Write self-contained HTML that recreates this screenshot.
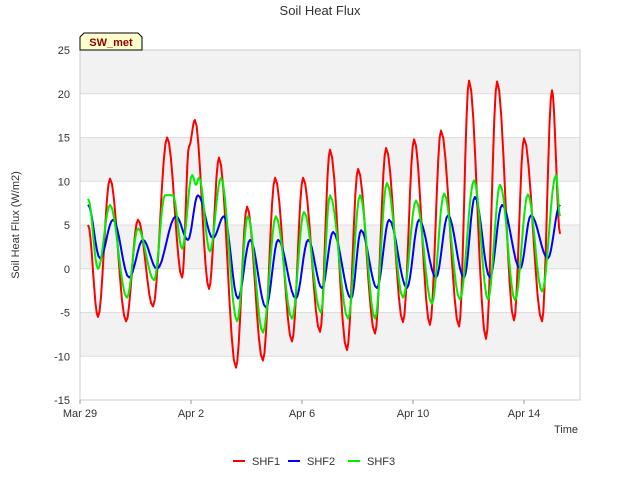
<!DOCTYPE html>
<html><head><meta charset="utf-8"><style>
body{margin:0;background:#fff;font-family:"Liberation Sans",sans-serif;}
svg text{font-family:"Liberation Sans",sans-serif;}
</style></head><body>
<svg id="chart" width="640" height="480" viewBox="0 0 640 480">
<rect width="640" height="480" fill="#fff"/>
<text x="320" y="15" text-anchor="middle" font-size="13" fill="#333">Soil Heat Flux</text>
<g id="plot"></g>
<text x="19" y="225" transform="rotate(-90 19 225)" text-anchor="middle" font-size="11" fill="#333">Soil Heat Flux (W/m2)</text>
<text x="578" y="433" text-anchor="end" font-size="11" fill="#333">Time</text>
<g>
<path d="M80,50 L80,37 L84,33 L138,33 L142,37 L142,50 Z" fill="#ffffcc" stroke="#000" stroke-width="1"/>
<text x="111" y="46" text-anchor="middle" font-size="11" font-weight="bold" fill="#8b0000">SW_met</text>
</g>
<g id="legend"></g>
</svg>
<script>
const yTicks=[25,20,15,10,5,0,-5,-10,-15];
const xTickDays=[0,4,8,12,16];
const xTickLabels=["Mar 29","Apr 2","Apr 6","Apr 10","Apr 14"];
const seriesNames=["SHF1","SHF2","SHF3"];
const seriesColors=["#ff0000","#0000ff","#00ee00"];
const shf1Days=[0.29,0.65,1.08,1.66,2.09,2.63,3.14,3.68,3.93,4.14,4.65,5.01,5.62,6.02,6.59,7.03,7.64,8.04,8.65,9.01,9.62,10.02,10.63,11.03,11.64,12.04,12.61,13.01,13.66,14.02,14.63,15.03,15.64,16.00,16.65,17.01,17.30];
const shf1Vals=[5.0,-5.5,10.3,-6,5.6,-4.3,15,-1,14,17,-2.3,12.7,-11.3,7.1,-10.5,10.4,-8.3,10.4,-7.2,13.6,-9.3,11.4,-7.4,13.8,-6.1,14.8,-6.4,15.8,-6.6,21.5,-8,21.4,-5.9,14.9,-6,20.4,4];
const shf2Days=[0.29,0.72,1.19,1.77,2.27,2.77,3.46,3.89,4.25,4.79,5.19,5.69,6.13,6.70,7.14,7.78,8.22,8.72,9.12,9.77,10.13,10.70,11.14,11.78,12.22,12.83,13.26,13.84,14.23,14.77,15.21,15.86,16.25,16.86,17.30];
const shf2Vals=[7.3,1.2,5.6,-1,3.3,0,6,3.3,8.4,3.5,6,-3.4,3.3,-4.4,3.3,-3.4,3.3,-2.2,4.2,-3.4,4.4,-2.2,5.6,-2.2,5.6,-1,6.1,-1,8.2,-1,7.3,0,6.1,1.2,7.3];
const shf3Days=[0.29,0.65,1.08,1.69,2.09,2.67,3.06,3.35,3.68,4.04,4.18,4.29,4.68,5.08,5.66,6.05,6.59,7.06,7.64,8.07,8.68,9.01,9.66,10.09,10.63,11.06,11.64,12.11,12.68,13.12,13.69,14.20,14.70,15.14,15.68,16.14,16.65,17.15,17.30];
const shf3Vals=[8,0,7.3,-3.3,4.6,-1.3,8.4,8.4,2.3,10.7,9.6,10.4,2,10.4,-6,6,-7.3,6,-5.7,6.5,-5,8.4,-5.7,8.4,-5.7,9.8,-3.3,7.8,-4,8.6,-3.5,10.1,-3.5,9.6,-3.6,8.5,-2.6,10.7,6];
const seriesDays=[shf1Days,shf2Days,shf3Days];
const seriesVals=[shf1Vals,shf2Vals,shf3Vals];

const NS="http://www.w3.org/2000/svg";
const L=80,R=580,T=50,B=400,yMin=-15,yMax=25,dayPx=27.75;
const xs=d=>L+d*dayPx;
const ys=v=>B-(v-yMin)/(yMax-yMin)*(B-T);
const plot=document.getElementById('plot');
function mk(tag,attrs,parent){const e=document.createElementNS(NS,tag);for(const k in attrs)e.setAttribute(k,attrs[k]);parent.appendChild(e);return e;}
// bands
for(let i=0;i<yTicks.length-1;i++){
  const r=mk('rect',{x:L,y:ys(yTicks[i]),width:R-L,height:ys(yTicks[i+1])-ys(yTicks[i]),fill:i%2===0?'#f2f2f2':'#ffffff'},plot);
  
  
}
yTicks.forEach(v=>{
  const l=mk('line',{x1:L,x2:R,y1:ys(v),y2:ys(v),stroke:'#dddddd','stroke-width':1},plot);
  
  
  const t=mk('text',{x:L-10,y:ys(v)+4,'text-anchor':'end','font-size':11,fill:'#333'},plot);
  t.textContent=v;
  
  
});
const frame=mk('rect',{x:L,y:T,width:R-L,height:B-T,fill:'none',stroke:'#cccccc'},plot);


xTickDays.forEach((d,i)=>{
  const tk=mk('line',{x1:xs(d),x2:xs(d),y1:B,y2:B+4,stroke:'#999'},plot);
  
  
  const t=mk('text',{x:xs(d),y:B+17,'text-anchor':'middle','font-size':11,fill:'#333'},plot);
  t.textContent=xTickLabels[i];
  
  
});
const order=[0,1,2];
order.forEach(s=>{
  const D=seriesDays[s],V=seriesVals[s];
  let d='M'+xs(D[0]).toFixed(1)+','+ys(V[0]).toFixed(1);
  for(let i=0;i<D.length-1;i++){
    for(let k=1;k<=8;k++){
      const f=k/8,w=(1-Math.cos(Math.PI*f))/2;
      const dd=D[i]+(D[i+1]-D[i])*f, vv=V[i]+(V[i+1]-V[i])*w;
      d+=' L'+xs(dd).toFixed(1)+','+ys(vv).toFixed(1);
    }
  }
  const p=mk('path',{d:d,fill:'none',stroke:seriesColors[s],'stroke-width':2,'stroke-linejoin':'round'},plot);
  
  
});
const lg=document.getElementById('legend');
const lx=[233,288,348];
seriesNames.forEach((n,i)=>{
  const g=mk('g',{},lg);
  
  
  mk('line',{x1:lx[i],x2:lx[i]+12,y1:461,y2:461,stroke:seriesColors[i],'stroke-width':2},g);
  const t=mk('text',{x:lx[i]+19,y:465,'font-size':11,fill:'#333'},g);
  t.textContent=n;
});
</script>
</body></html>
